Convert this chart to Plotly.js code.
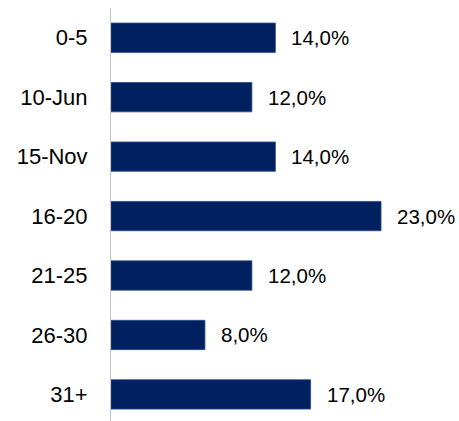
<!DOCTYPE html>
<html>
<head>
<meta charset="utf-8">
<script src="https://cdn.plot.ly/plotly-3.0.1.min.js"></script>
<style>html,body{margin:0;padding:0;background:#fff;}#chart{width:459px;height:421px;}</style>
</head>
<body>
<div id="chart"></div>
<script>
const categories = ["0-5", "10-Jun", "15-Nov", "16-20", "21-25", "26-30", "31+"];
const values = [14, 12, 14, 23, 12, 8, 17];
const valueLabels = values.map(v => v.toFixed(1).replace('.', ',') + '%');

const trace = {
  type: 'bar',
  orientation: 'h',
  x: values,
  y: categories,
  marker: {color: '#002060', line: {color: '#2c4a85', width: 0.8}},
  hoverinfo: 'none'
};

const annotations = categories.map((c, i) => ({
  x: values[i], y: c, xref: 'x', yref: 'y',
  text: valueLabels[i], showarrow: false,
  xanchor: 'left', yanchor: 'middle', xshift: 14,
  font: {family: 'Liberation Sans, Arial, sans-serif', size: 20.5, color: '#000'}
}));

const layout = {
  width: 459, height: 421,
  margin: {l: 111, r: 0, t: 8, b: 0},
  paper_bgcolor: '#fff', plot_bgcolor: '#fff',
  showlegend: false,
  bargap: 0.507,
  xaxis: {range: [0, 29.64], visible: false, fixedrange: true},
  yaxis: {
    type: 'category',
    range: [6.447, -0.5],
    showline: true, linecolor: '#c3c3c3', linewidth: 1,
    showgrid: false, zeroline: false,
    ticks: 'outside', ticklen: 18, tickcolor: 'rgba(0,0,0,0)',
    tickfont: {family: 'Liberation Sans, Arial, sans-serif', size: 22, color: '#000'}
  },
  annotations: annotations
};

Plotly.newPlot('chart', [trace], layout, {displayModeBar: false, staticPlot: true});
</script>
</body>
</html>
